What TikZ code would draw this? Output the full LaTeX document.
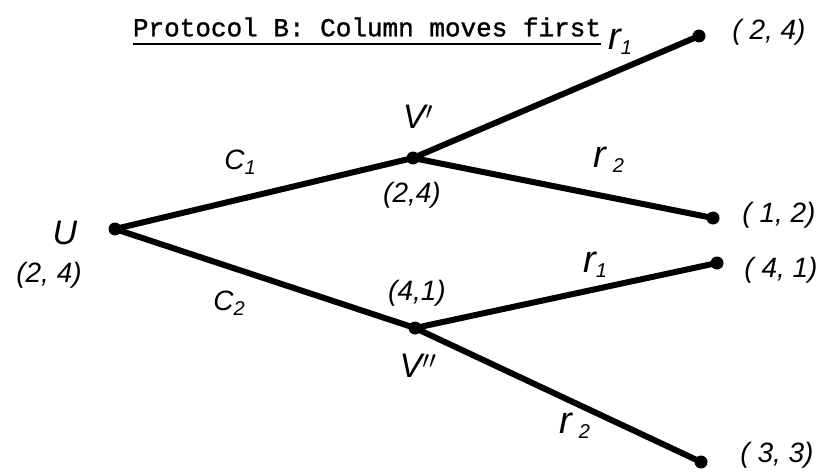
\documentclass[tikz,border=0pt]{standalone}
\usepackage{fontspec}
\setmainfont{Liberation Sans}
\newfontfamily\monofont[FakeBold=1.2]{Liberation Mono}
\newcommand{\mysub}[1]{\raisebox{-5pt}{\fontsize{20}{20}\selectfont #1}}
\begin{document}
\begin{tikzpicture}[x=1pt,y=-1pt,
  edge/.style={line width=6pt,line cap=round},
  dotnode/.style={circle,fill=black,inner sep=0pt,minimum size=13pt},
  hand/.style={font=\fontsize{28}{30}\selectfont\itshape,inner sep=0pt},
  big/.style={font=\fontsize{34}{36}\selectfont\itshape,inner sep=0pt},
  rlab/.style={font=\fontsize{38}{40}\selectfont\itshape,inner sep=0pt},
  ttl/.style={font=\fontsize{26}{28}\selectfont\monofont,inner sep=0pt}]
\useasboundingbox (0,0) rectangle (830,476);
% nodes
\node[dotnode] (u) at (115,229) {};
\node[dotnode] (v1) at (413,158) {};
\node[dotnode] (v2) at (415,328) {};
\node[dotnode] (l1) at (699,36) {};
\node[dotnode] (l2) at (713,218) {};
\node[dotnode] (l3) at (717,263) {};
\node[dotnode] (l4) at (701,462) {};
% edges
\draw[edge] (u.center) -- (v1.center);
\draw[edge] (u.center) -- (v2.center);
\draw[edge] (v1.center) -- (l1.center);
\draw[edge] (v1.center) -- (l2.center);
\draw[edge] (v2.center) -- (l3.center);
\draw[edge] (v2.center) -- (l4.center);
% title
\node[ttl] (title) at (367,27) {Protocol B: Column moves first};
\draw[line width=1.6pt] (title.south west) ++(0,7) coordinate (ula) -- (title.south east |- ula);
% node labels
\node[big] (ulab) at (65,233) {U};
\node[hand] (upay) at (49,275) {(2, 4)};
\node[big] (v1lab) at (418,117) {V$'$};
\node[hand] (v1pay) at (412,195) {(2,4)};
\node[hand] (v2pay) at (417,293) {(4,1)};
\node[big] (v2lab) at (418,366) {V$''$};
% edge labels
\node[hand] (c1) at (240,162) {C\mysub{1}};
\node[hand] (c2) at (229,303) {C\mysub{2}};
\node[rlab] (r1a) at (620,42) {r\mysub{1}};
\node[rlab] (r2a) at (609,160) {r\,\mysub{2}};
\node[rlab] (r1b) at (595,265) {r\mysub{1}};
\node[rlab] (r2b) at (575,426) {r\,\mysub{2}};
% leaf labels
\node[hand] (p1) at (769,32) {( 2, 4)};
\node[hand] (p2) at (779,215) {( 1, 2)};
\node[hand] (p3) at (781,270) {( 4, 1)};
\node[hand] (p4) at (777,455) {( 3, 3)};
\end{tikzpicture}
\end{document}
